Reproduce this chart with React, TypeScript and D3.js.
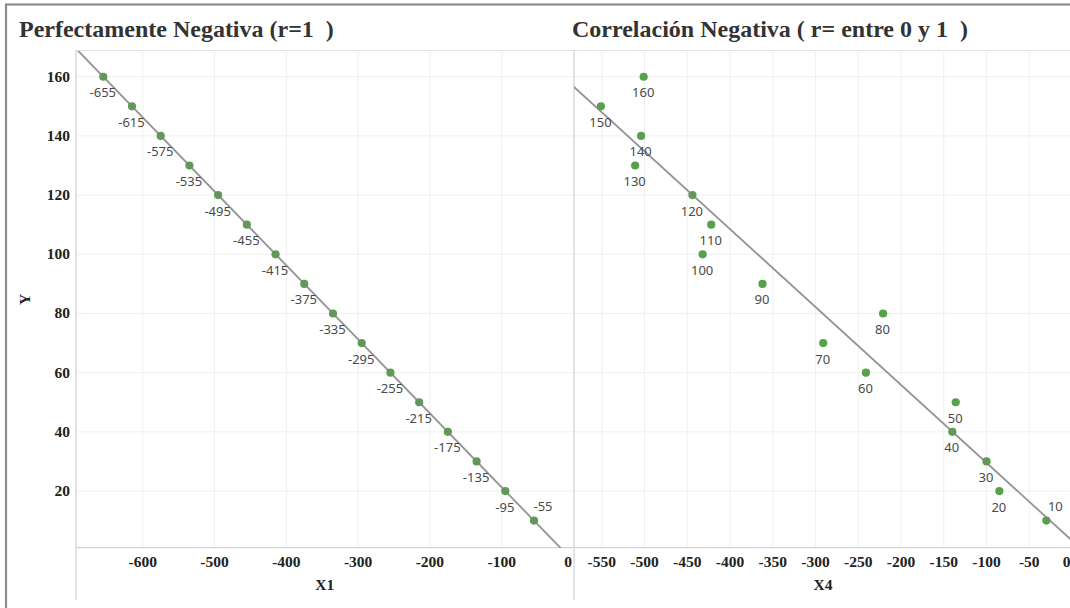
import * as d3 from 'd3';
import {useEffect, useRef} from 'react';

const width = 1070;
const height = 608;

// data
const yValues = [160, 150, 140, 130, 120, 110, 100, 90, 80, 70, 60, 50, 40, 30, 20, 10];
const x1Values = [-655, -615, -575, -535, -495, -455, -415, -375, -335, -295, -255, -215, -175, -135, -95, -55];
const x4Values = [-501, -551, -504, -511, -444, -422, -432, -362, -221, -291, -241, -136, -140, -100, -85, -30];

const x1Ticks = [-600, -500, -400, -300, -200, -100, 0];
const x4Ticks = [-550, -500, -450, -400, -350, -300, -250, -200, -150, -100, -50, 0];
const yTicks = [20, 40, 60, 80, 100, 120, 140, 160];

// points whose label sits above the mark instead of below
const labelAbove1 = [10];
const labelAbove4 = [10];

const serif = '"Liberation Serif", "Times New Roman", serif';
const sans = '"Noto Sans", "Open Sans", sans-serif';

const top = 51;
const bottom = 547.7;

function fit(xs, ys) {
  const mx = d3.mean(xs);
  const my = d3.mean(ys);
  let sxy = 0;
  let sxx = 0;
  xs.forEach((x, i) => {
    sxy += (x - mx) * (ys[i] - my);
    sxx += (x - mx) * (x - mx);
  });
  const slope = sxy / sxx;
  return {slope, intercept: my - slope * mx};
}

function App() {
  const ref = useRef(null);

  useEffect(() => {
    const svg = d3
      .select(ref.current)
      .append('svg')
      .attr('width', width)
      .attr('height', height)
      .style('display', 'block')
      .style('background', '#fff');

    const yScale = d3.scaleLinear().domain([0.85, 168.7]).range([bottom, top]);

    // outer frame
    svg
      .append('rect')
      .attr('x', 6)
      .attr('y', 4.5)
      .attr('width', 1200)
      .attr('height', 800)
      .attr('fill', 'none')
      .attr('stroke', '#8c8c8c')
      .attr('stroke-width', 2.2);

    const panels = [
      {
        id: 'p1',
        title: 'Perfectamente Negativa (r=1  )',
        titleX: 19,
        axisTitle: 'X1',
        domain: [-693, 0],
        range: [76, 573.5],
        xs: x1Values,
        ticks: x1Ticks,
        labels: x1Values.map(String),
        above: labelAbove1,
      },
      {
        id: 'p2',
        title: 'Correlación Negativa ( r= entre 0 y 1  )',
        titleX: 572,
        axisTitle: 'X4',
        domain: [-582.5, 0],
        range: [574, 1072],
        xs: x4Values,
        ticks: x4Ticks,
        labels: yValues.map(String),
        above: labelAbove4,
      },
    ];

    panels.forEach(p => {
      const xScale = d3.scaleLinear().domain(p.domain).range(p.range);
      const g = svg.append('g');

      svg
        .append('text')
        .attr('x', p.titleX)
        .attr('y', 37)
        .attr('font-family', serif)
        .attr('font-weight', 'bold')
        .attr('font-size', 24)
        .attr('fill', '#333')
        .style('white-space', 'pre')
        .text(p.title);

      g.append('clipPath')
        .attr('id', `clip-${p.id}`)
        .append('rect')
        .attr('x', p.range[0])
        .attr('y', top)
        .attr('width', p.range[1] - p.range[0])
        .attr('height', bottom - top);

      // gridlines
      g.selectAll('.vgrid')
        .data(p.ticks.filter(t => t !== 0))
        .join('line')
        .attr('x1', d => xScale(d))
        .attr('x2', d => xScale(d))
        .attr('y1', top)
        .attr('y2', bottom)
        .attr('stroke', '#f0f0f0')
        .attr('stroke-width', 1);

      g.selectAll('.hgrid')
        .data(yTicks)
        .join('line')
        .attr('x1', p.range[0])
        .attr('x2', p.range[1])
        .attr('y1', d => yScale(d))
        .attr('y2', d => yScale(d))
        .attr('stroke', '#f0f0f0')
        .attr('stroke-width', 1);

      // top border & bottom axis line
      g.append('line')
        .attr('x1', p.range[0])
        .attr('x2', p.range[1])
        .attr('y1', top - 0.5)
        .attr('y2', top - 0.5)
        .attr('stroke', '#e4e4e4');
      g.append('line')
        .attr('x1', p.range[0])
        .attr('x2', p.range[1])
        .attr('y1', bottom)
        .attr('y2', bottom)
        .attr('stroke', '#d4d4d4')
        .attr('stroke-width', 1.2);
      g.append('line')
        .attr('x1', p.range[0])
        .attr('x2', p.range[0])
        .attr('y1', top - 1)
        .attr('y2', 600)
        .attr('stroke', '#d4d4d4')
        .attr('stroke-width', 1.3);

      // x tick labels
      g.selectAll('.xtick')
        .data(p.ticks)
        .join('text')
        .attr('x', d => (d === 0 ? p.range[1] - 1.5 : xScale(d)))
        .attr('y', 567)
        .attr('text-anchor', d => (d === 0 ? 'end' : 'middle'))
        .attr('font-family', serif)
        .attr('font-weight', 'bold')
        .attr('font-size', 15.5)
        .attr('fill', '#222')
        .text(d => d);

      g.append('text')
        .attr('x', (p.range[0] + p.range[1]) / 2)
        .attr('y', 590)
        .attr('text-anchor', 'middle')
        .attr('font-family', serif)
        .attr('font-weight', 'bold')
        .attr('font-size', 15.5)
        .attr('fill', '#222')
        .text(p.axisTitle);

      // marks
      const data = p.xs.map((x, i) => ({x, y: yValues[i], label: p.labels[i]}));
      const plot = g.append('g').attr('clip-path', `url(#clip-${p.id})`);

      plot
        .selectAll('circle')
        .data(data)
        .join('circle')
        .attr('cx', d => xScale(d.x))
        .attr('cy', d => yScale(d.y))
        .attr('r', 4.1)
        .attr('fill', '#58a14c');

      const {slope, intercept} = fit(p.xs, yValues);
      const trend = d3
        .line()
        .x(d => xScale(d))
        .y(d => yScale(slope * d + intercept));
      plot
        .append('path')
        .datum([p.domain[0] - 20, p.domain[1] + 20])
        .attr('fill', 'none')
        .attr('stroke', '#808080')
        .attr('stroke-opacity', 0.85)
        .attr('stroke-width', 1.8)
        .attr('d', trend);

      g.selectAll('.lbl')
        .data(data)
        .join('text')
        .attr('x', d => xScale(d.x) + (p.above.includes(d.y) ? 9 : -0.5))
        .attr('y', d => yScale(d.y) + (p.above.includes(d.y) ? -9.5 : 20.5))
        .attr('text-anchor', 'middle')
        .attr('font-family', sans)
        .attr('font-size', 13)
        .attr('fill', '#4a4a4a')
        .text(d => d.label);
    });

    // y axis labels (shared)
    svg
      .selectAll('.ytick')
      .data(yTicks)
      .join('text')
      .attr('x', 70)
      .attr('y', d => yScale(d) + 5)
      .attr('text-anchor', 'end')
      .attr('font-family', serif)
      .attr('font-weight', 'bold')
      .attr('font-size', 15.5)
      .attr('fill', '#222')
      .text(d => d);

    svg
      .append('text')
      .attr('transform', `translate(30, ${(top + bottom) / 2}) rotate(-90)`)
      .attr('text-anchor', 'middle')
      .attr('font-family', serif)
      .attr('font-weight', 'bold')
      .attr('font-size', 15.5)
      .attr('fill', '#222')
      .text('Y');

    return () => svg.remove();
  }, []);

  return <div ref={ref} style={{position: 'absolute', left: 0, top: 0}}></div>;
}

export default App;
